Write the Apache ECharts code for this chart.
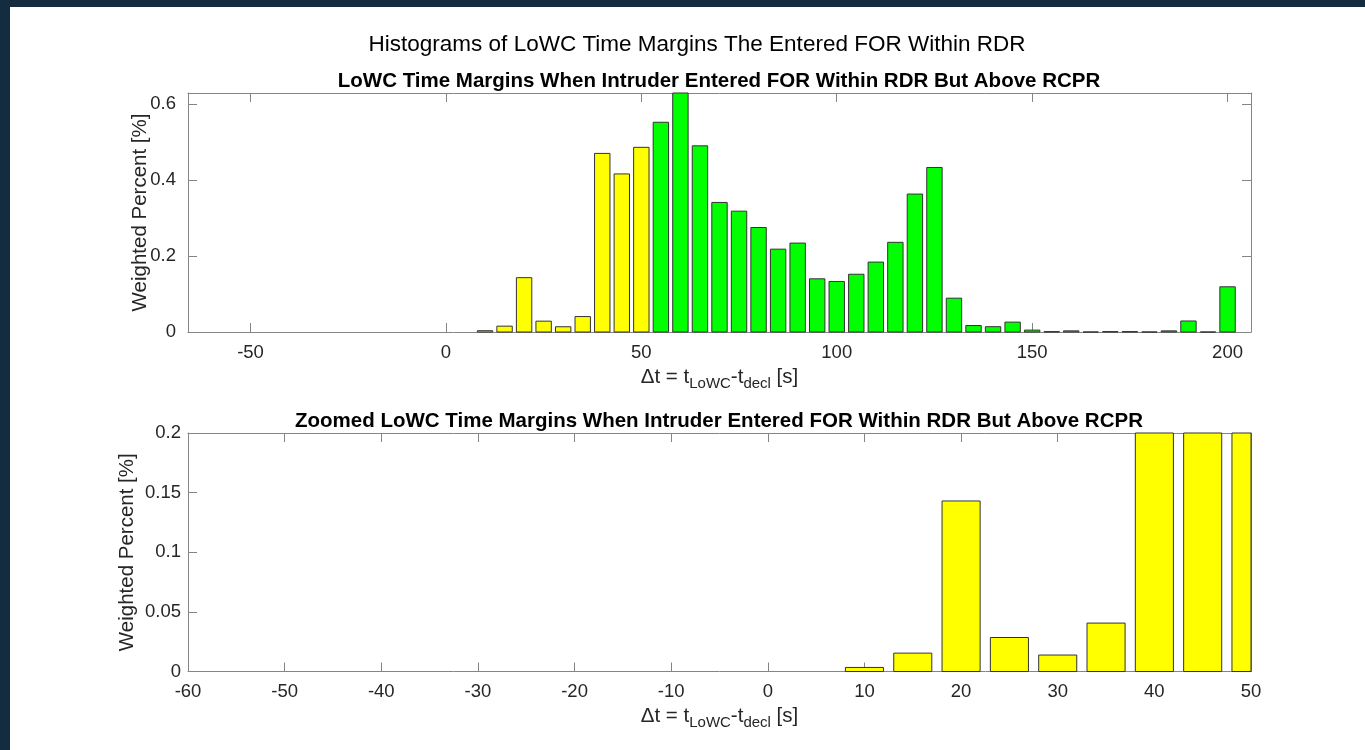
<!DOCTYPE html>
<html>
<head>
<meta charset="utf-8">
<title>LoWC Time Margins</title>
<script src="https://cdn.jsdelivr.net/npm/echarts@6/dist/echarts.min.js"></script>
<style>
  html, body { margin: 0; padding: 0; background: #132c3f; }
  #chart { position: absolute; left: 10px; top: 7px; width: 1355px; height: 743px; background: #fff; }
</style>
</head>
<body>
<div id="chart"></div>
<script>
// bin centres [s] and weighted percent per bin
const yellowBins = [10, 15, 20, 25, 30, 35, 40, 45, 50]
const yellowPct = [0.0034, 0.0154, 0.143, 0.0285, 0.0138, 0.0406, 0.470, 0.416, 0.486]
const greenBins = [55, 60, 65, 70, 75, 80, 85, 90, 95, 100, 105, 110, 115, 120, 125,
  130, 135, 140, 145, 150, 155, 160, 165, 170, 175, 180, 185, 190, 195, 200]
const greenPct = [0.552, 0.629, 0.490, 0.341, 0.318, 0.275, 0.218, 0.234, 0.140, 0.133, 0.152, 0.184, 0.236, 0.363, 0.433,
  0.089, 0.017, 0.014, 0.026, 0.005, 0.001, 0.003, 0, 0.001, 0.001, 0, 0.003, 0.029, 0, 0.119]

const topXTicks = [-50, 0, 50, 100, 150, 200]
const topYTicks = [0, 0.2, 0.4, 0.6]

const mainTitle = 'Histograms of LoWC Time Margins The Entered FOR Within RDR'
const topTitle = 'LoWC Time Margins When Intruder Entered FOR Within RDR But Above RCPR'
const bottomTitle = 'Zoomed LoWC Time Margins When Intruder Entered FOR Within RDR But Above RCPR'

const FONT = 'Liberation Sans, Arial, Helvetica, sans-serif'
const TEXT = '#262626'
const AXIS = '#858585'
const BAR_W = 3.94 // bin width 5, bars drawn at ~80%

const toPairs = (xs, ys) => xs.map((x, i) => [x, ys[i]])

const renderBar = (params, api) => {
  const x = api.value(0)
  const y = api.value(1)
  const p0 = api.coord([x - BAR_W / 2, 0])
  const p1 = api.coord([x + BAR_W / 2, y])
  const cs = params.coordSys
  const shape = echarts.graphic.clipRectByRect(
    { x: p0[0], y: p1[1], width: p1[0] - p0[0], height: p0[1] - p1[1] },
    { x: cs.x, y: cs.y, width: cs.width, height: cs.height }
  )
  if (!shape) return
  return { type: 'rect', shape, style: api.style() }
}

const xName = '{n|\u0394t = t}{s|LoWC}{n|-t}{s|decl}{n| [s]}'
const xNameStyle = {
  rich: {
    n: { fontSize: 20.5, fontFamily: FONT, color: TEXT, lineHeight: 24 },
    s: { fontSize: 15, fontFamily: FONT, color: TEXT, lineHeight: 16, padding: [13, 0, 0, 0] }
  }
}

const tickStyle = { inside: true, length: 9, lineStyle: { color: AXIS } }
const lineStyle = { show: true, onZero: false, lineStyle: { color: AXIS, width: 1 } }
const labelStyle = { color: TEXT, fontSize: 18.5, fontFamily: FONT }

const bottomX = (gridIndex, min, max, extra) => ({
  gridIndex, type: 'value', position: 'bottom', min, max,
  axisLine: lineStyle, splitLine: { show: false },
  name: xName, nameLocation: 'middle', nameGap: 31, nameTextStyle: xNameStyle,
  ...extra
})
const topX = (gridIndex, min, max, extra) => ({
  gridIndex, type: 'value', position: 'top', min, max,
  axisLine: lineStyle, splitLine: { show: false },
  axisLabel: { show: false },
  ...extra
})
const leftY = (gridIndex, min, max, nameGap, extra) => ({
  gridIndex, type: 'value', position: 'left', min, max,
  axisLine: lineStyle, splitLine: { show: false },
  name: 'Weighted Percent [%]', nameLocation: 'middle', nameGap,
  nameMoveOverlap: false,
  nameTextStyle: { fontSize: 20.5, fontFamily: FONT, color: TEXT },
  ...extra
})
const rightY = (gridIndex, min, max, extra) => ({
  gridIndex, type: 'value', position: 'right', min, max,
  axisLine: lineStyle, splitLine: { show: false },
  axisLabel: { show: false },
  ...extra
})

const barSeries = (name, xs, ys, color, axisIdx) => ({
  type: 'custom',
  name,
  xAxisIndex: axisIdx,
  yAxisIndex: axisIdx,
  renderItem: renderBar,
  encode: { x: 0, y: 1 },
  itemStyle: { color, borderColor: '#333', borderWidth: 1 },
  data: toPairs(xs, ys),
  silent: true
})

const option = {
  animation: false,
  title: [
    { text: mainTitle, left: 687, top: 26, textAlign: 'center', padding: 0,
      textStyle: { fontSize: 22.5, fontWeight: 'normal', fontFamily: FONT, color: '#000' } },
    { text: topTitle, left: 709, top: 64, textAlign: 'center', padding: 0,
      textStyle: { fontSize: 20.5, fontWeight: 'bold', fontFamily: FONT, color: '#000' } },
    { text: bottomTitle, left: 709, top: 404, textAlign: 'center', padding: 0,
      textStyle: { fontSize: 20.5, fontWeight: 'bold', fontFamily: FONT, color: '#000' } }
  ],
  grid: [
    { left: 178, top: 86, width: 1063, height: 239 },
    { left: 178, top: 426, width: 1063, height: 238.5 }
  ],
  xAxis: [
    bottomX(0, -66, 206, {
      axisTick: { ...tickStyle, customValues: topXTicks },
      axisLabel: { ...labelStyle, margin: 11, customValues: topXTicks }
    }),
    topX(0, -66, 206, { axisTick: { ...tickStyle, customValues: topXTicks } }),
    bottomX(1, -60, 50, {
      interval: 10,
      axisTick: tickStyle,
      axisLabel: { ...labelStyle, margin: 11 }
    }),
    topX(1, -60, 50, { interval: 10, axisTick: tickStyle })
  ],
  yAxis: [
    leftY(0, 0, 0.629, 37, {
      axisTick: { ...tickStyle, customValues: topYTicks },
      axisLabel: { ...labelStyle, margin: 12, customValues: topYTicks }
    }),
    rightY(0, 0, 0.629, { axisTick: { ...tickStyle, customValues: topYTicks } }),
    leftY(1, 0, 0.2, 50, {
      interval: 0.05,
      axisTick: tickStyle,
      axisLabel: { ...labelStyle, margin: 7 }
    }),
    rightY(1, 0, 0.2, { interval: 0.05, axisTick: tickStyle })
  ],
  series: [
    barSeries('yellow', yellowBins, yellowPct, '#ffff00', 0),
    barSeries('green', greenBins, greenPct, '#00ff00', 0),
    barSeries('yellow zoom', yellowBins, yellowPct, '#ffff00', 2),
    barSeries('green zoom', greenBins, greenPct, '#00ff00', 2)
  ]
}

const chart = echarts.init(document.getElementById('chart'))
chart.setOption(option)
window.addEventListener('resize', () => chart.resize())
</script>
</body>
</html>
